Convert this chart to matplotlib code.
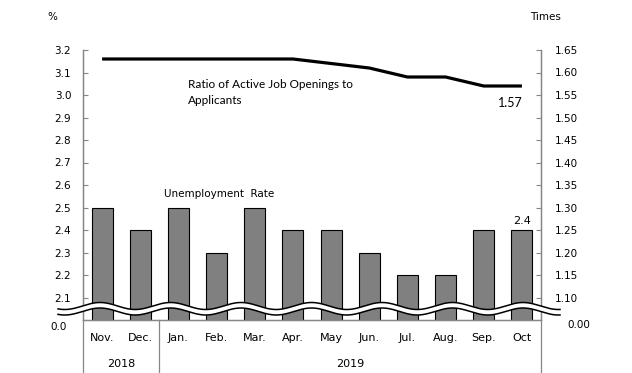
import matplotlib.pyplot as plt
import matplotlib.transforms as mtransforms
import numpy as np
from matplotlib.lines import Line2D

months = ["Nov.", "Dec.", "Jan.", "Feb.", "Mar.", "Apr.", "May", "Jun.",
          "Jul.", "Aug.", "Sep.", "Oct"]
unemployment = [2.5, 2.4, 2.5, 2.3, 2.5, 2.4, 2.4, 2.3, 2.2, 2.2, 2.4, 2.4]
job_ratio = [1.63, 1.63, 1.63, 1.63, 1.63, 1.63, 1.62, 1.61, 1.59, 1.59, 1.57, 1.57]
left_ticks = [2.1, 2.2, 2.3, 2.4, 2.5, 2.6, 2.7, 2.8, 2.9, 3.0, 3.1, 3.2]
right_ticks = [1.10, 1.15, 1.20, 1.25, 1.30, 1.35, 1.40, 1.45, 1.50, 1.55, 1.60, 1.65]
years = [("2018", 0, 1), ("2019", 2, 11)]

W, H = 632, 373
plt.rcParams["font.family"] = "DejaVu Sans"
fig = plt.figure(figsize=(W / 100, H / 100), dpi=100)


def fx(px):
    return px / W


def fy(py):
    return 1 - py / H


ax_l, ax_r, ax_t, ax_b = 83, 541, 50, 320
ax = fig.add_axes([fx(ax_l), fy(ax_b), fx(ax_r) - fx(ax_l), fy(ax_t) - fy(ax_b)])
ax2 = ax.twinx()

gray = "#868686"
x = np.arange(len(months))
ax.bar(x, unemployment, width=0.55, color="#808080", edgecolor="black", linewidth=0.8, zorder=2)
ax.set_xlim(-0.5, len(months) - 0.5)
ax.set_ylim(2.0, 3.2)
ax.set_yticks(left_ticks)
ax.set_yticklabels([f"{v:.1f}" for v in left_ticks], fontsize=7.5)
ax.tick_params(axis="y", direction="in", length=3.5, color=gray, pad=8.5)
ax.set_xticks([])

ax2.plot(x, job_ratio, color="black", lw=2.3, solid_capstyle="butt", zorder=3)
ax2.set_ylim(1.05, 1.65)
ax2.set_yticks(right_ticks)
ax2.set_yticklabels([f"{v:.2f}" for v in right_ticks], fontsize=7.5)
ax2.tick_params(axis="y", direction="in", length=3.5, color=gray, pad=10)

for a in (ax, ax2):
    a.spines["top"].set_visible(False)
    for s in ("left", "right", "bottom"):
        a.spines[s].set_color(gray)
        a.spines[s].set_linewidth(0.9)
    a.patch.set_visible(False)

# month and year labels under the axis
blend = mtransforms.blended_transform_factory(ax.transData, fig.transFigure)
for i, m in enumerate(months):
    ax.text(i, fy(338), m, transform=blend, ha="center", va="center", fontsize=8)
for label, i0, i1 in years:
    ax.text((i0 + i1) / 2, fy(364), label, transform=blend, ha="center", va="center", fontsize=8)

# category separators running down to the bottom edge
for xd in (-0.5, 1.5, len(months) - 0.5):
    fig.add_artist(Line2D([xd, xd], [fy(ax_b), 0], transform=blend, color=gray, lw=0.9))

# axis break wave
px = np.linspace(58, 560, 400)
upper = 306 - 3.5 * np.cos(2 * np.pi * (px - 100) / 70.5)
lower = upper + 5.5
fig.patches.append(plt.Polygon(
    np.column_stack([fx(np.concatenate([px, px[::-1]])),
                     fy(np.concatenate([upper, lower[::-1]]))]),
    closed=True, facecolor="white", edgecolor="none", transform=fig.transFigure, zorder=5))
fig.add_artist(Line2D(fx(px), fy(upper), color="black", lw=1.1, zorder=6))
fig.add_artist(Line2D(fx(px), fy(lower), color="black", lw=1.1, zorder=6))

# extra texts
fig.text(fx(52), fy(17), "%", ha="center", va="center", fontsize=7.5)
fig.text(fx(546), fy(17), "Times", ha="center", va="center", fontsize=7.5)
fig.text(fx(67), fy(327), "0.0", ha="right", va="center", fontsize=7.5)
fig.text(fx(567), fy(325), "0.00", ha="left", va="center", fontsize=7.5)
fig.text(fx(188), fy(85), "Ratio of Active Job Openings to", ha="left", va="center",
         fontsize=8.5, family="Lato")
fig.text(fx(188), fy(100), "Applicants", ha="left", va="center", fontsize=8.5, family="Lato")
fig.text(fx(219), fy(194), "Unemployment  Rate", ha="center", va="center", fontsize=7.5)
ax.text(x[-1], unemployment[-1] + 0.02, f"{unemployment[-1]}", ha="center", va="bottom", fontsize=8)
ax2.text(x[-1] - 0.3, job_ratio[-1] - 0.025, f"{job_ratio[-1]:.2f}", ha="center", va="top",
         fontsize=9, family="Lato")

fig.savefig("out.png", dpi=100)
